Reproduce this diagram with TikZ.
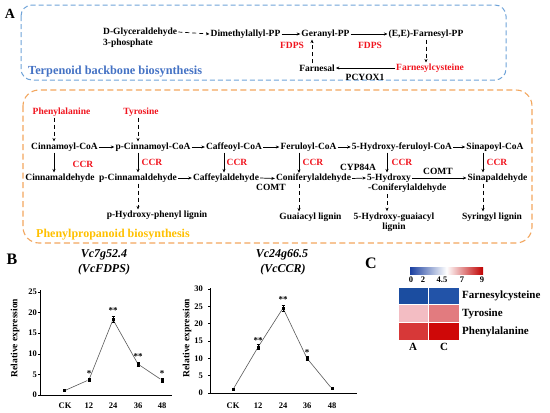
\documentclass[tikz,border=0pt]{standalone}
\usepackage{fontspec}
\setmainfont{Liberation Serif}
\usetikzlibrary{arrows.meta,calc}
\definecolor{tblue}{HTML}{6FA3D8}
\definecolor{ttext}{HTML}{4472C4}
\definecolor{porange}{HTML}{F2A65E}
\definecolor{ptext}{HTML}{FFC000}
\definecolor{enzred}{HTML}{F0141E}
\definecolor{hFA}{HTML}{1B4DA0}
\definecolor{hFC}{HTML}{2253A8}
\definecolor{hTA}{HTML}{F3BDC3}
\definecolor{hTC}{HTML}{E27B7F}
\definecolor{hPA}{HTML}{D73838}
\definecolor{hPC}{HTML}{CF0808}
\definecolor{cbB}{HTML}{1A3FA0}
\definecolor{cbR}{HTML}{C00000}
\newcommand{\errbar}[2]{\draw[line width=0.5pt] ([yshift=#2]#1.center) -- ([yshift=-#2]#1.center) ([xshift=-1.5pt,yshift=#2]#1.center) -- ([xshift=1.5pt,yshift=#2]#1.center) ([xshift=-1.5pt,yshift=-#2]#1.center) -- ([xshift=1.5pt,yshift=-#2]#1.center);}
\begin{document}
\begin{tikzpicture}[x=1pt,y=-1pt,
  every node/.style={inner sep=1pt, font=\bfseries\fontsize{9.5}{10}\selectfont},
  arr/.style={-{Stealth[length=3.5pt,width=3pt]}, line width=0.7pt},
  darr/.style={arr, dash pattern=on 4pt off 3pt},
  enz/.style={text=enzred},
  lbl/.style={font=\bfseries\fontsize{16}{16}\selectfont},
  tick/.style={font=\bfseries\fontsize{8.5}{9}\selectfont, inner sep=0.5pt},
  star/.style={font=\bfseries\fontsize{9}{9}\selectfont, inner sep=0pt},
  pt/.style={fill=black, rectangle, minimum size=3pt, inner sep=0pt},
  dline/.style={line width=0.6pt, black!65},
  title/.style={font=\bfseries\itshape\fontsize{12}{12}\selectfont},
  hl/.style={font=\bfseries\fontsize{11}{12}\selectfont, anchor=west}
]
\useasboundingbox (0,0) rectangle (550,413);

% ---------- Panel A : boxes ----------
\draw[tblue, line width=1pt, dash pattern=on 5pt off 3pt, rounded corners=11pt] (21,5) rectangle (506,80);
\draw[porange, line width=1.1pt, dash pattern=on 6pt off 3.5pt, rounded corners=16pt] (23,90) rectangle (532,243);
\node[lbl, font=\bfseries\fontsize{14}{14}\selectfont] (labA) at (10,14) {A};
\node[anchor=west, text=ttext, font=\bfseries\fontsize{12.3}{13}\selectfont] (ttitle) at (27,72) {Terpenoid backbone biosynthesis};
\node[anchor=west, text=ptext, font=\bfseries\fontsize{12}{13}\selectfont] (ptitle) at (35,235) {Phenylpropanoid biosynthesis};

% ---------- Terpenoid ----------
\node[anchor=west] (dg1) at (102,32) {D-Glyceraldehyde};
\node[anchor=west] (dg2) at (102,43) {3-phosphate};
\node (dmapp) at (245.5,34) {Dimethylallyl-PP};
\node (gpp) at (325.5,34) {Geranyl-PP};
\node (fpp) at (426,34) {(E,E)-Farnesyl-PP};
\node[enz] (fdps1) at (292,45) {FDPS};
\node[enz] (fdps2) at (370,45) {FDPS};
\node (farnesal) at (317,68) {Farnesal};
\node[enz] (fcys) at (430,68) {Farnesylcysteine};
\node (pcyox) at (365,77.5) {PCYOX1};
\coordinate (colF) at (312,0);
\draw[darr] (dg1.east) -- (dmapp.west);
\draw[arr] (dmapp.east) -- (gpp.west);
\draw[arr] (gpp.east) -- (fpp.west);
\draw[darr] (fpp.south) -- (fpp.south |- fcys.north);
\draw[arr] (fcys.west) -- (farnesal.east);
\draw[darr] (farnesal.north -| colF) -- (gpp.south -| colF);

% ---------- Phenylpropanoid ----------
\node[enz] (phe) at (61.5,112) {Phenylalanine};
\node[enz] (tyr) at (141,112) {Tyrosine};
\node (cin) at (64.5,147) {Cinnamoyl-CoA};
\node (pcin) at (153,147) {p-Cinnamoyl-CoA};
\node (caf) at (234,147) {Caffeoyl-CoA};
\node (fer) at (308.5,147) {Feruloyl-CoA};
\node (hfer) at (402,147) {5-Hydroxy-feruloyl-CoA};
\node (sin) at (495,147) {Sinapoyl-CoA};
\node (cinal) at (60,178) {Cinnamaldehyde};
\node (pcinal) at (138,178) {p-Cinnamaldehyde};
\node (cafal) at (226,178) {Caffeylaldehyde};
\node (conal) at (313.5,178.5) {Coniferylaldehyde};
\node[anchor=west] (hyd) at (366,178) {5-Hydroxy};
\node[anchor=west] (hyd2) at (367,188.5) {-Coniferylaldehyde};
\node (sinal) at (497.5,178) {Sinapaldehyde};
\node (hpl) at (157,215) {p-Hydroxy-phenyl lignin};
\node (gl) at (310.5,217) {Guaiacyl lignin};
\node[align=center, font=\bfseries\fontsize{9.5}{10.5}\selectfont] (hgl) at (394,222) {5-Hydroxy-guaiacyl\\lignin};
\node (sl) at (492,217) {Syringyl lignin};
\node[enz] (ccr1) at (83,164) {CCR};
\node[enz] (ccr2) at (152,162.5) {CCR};
\node[enz] (ccr3) at (237,162.5) {CCR};
\node[enz] (ccr4) at (313,162.5) {CCR};
\node[enz] (ccr5) at (402,162.5) {CCR};
\node[enz] (ccr6) at (497,162.5) {CCR};
\node (comt1) at (271,187.5) {COMT};
\node (cyp) at (358,167) {CYP84A};
\node (comt2) at (438,171) {COMT};
\coordinate (c1) at (54,0);
\coordinate (c2) at (138,0);
\coordinate (c3) at (224,0);
\coordinate (c4) at (299,0);
\coordinate (c5) at (387,0);
\coordinate (c6) at (483,0);
% inputs
\draw[darr] (phe.south -| c1) -- (cin.north -| c1);
\draw[darr] (tyr.south -| c2) -- (pcin.north -| c2);
% CoA row
\draw[arr] (cin.east) -- (pcin.west);
\draw[arr] (pcin.east) -- (caf.west);
\draw[arr] (caf.east) -- (fer.west);
\draw[arr] (fer.east) -- (hfer.west);
\draw[arr] (hfer.east) -- (sin.west);
% CCR steps
\draw[arr] (cin.south -| c1) -- (cinal.north -| c1);
\draw[arr] (pcin.south -| c2) -- (pcinal.north -| c2);
\draw[arr] (caf.south -| c3) -- (cafal.north -| c3);
\draw[arr] (fer.south -| c4) -- (conal.north -| c4);
\draw[arr] (hfer.south -| c5) -- (hyd.north -| c5);
\draw[arr] (sin.south -| c6) -- (sinal.north -| c6);
% aldehyde row
\draw[arr] (pcinal.east) -- (cafal.west);
\draw[arr] (cafal.east) -- (conal.west);
\draw[arr] (conal.east) -- (hyd.west);
\draw[arr] (hyd.east) -- (sinal.west);
% lignins
\draw[darr] (pcinal.south -| c2) -- (hpl.north -| c2);
\draw[darr] (conal.south -| c4) -- (gl.north -| c4);
\draw[darr] (hyd2.south -| c5) -- (hgl.north -| c5);
\draw[darr] (sinal.south -| c6) -- (sl.north -| c6);

% ---------- Panel B ----------
\node[lbl] (labB) at (12,259) {B};
\node[title] (t1a) at (104,255) {Vc7g52.4};
\node[title] (t1b) at (104,270) {(VcFDPS)};
\node[title] (t2a) at (282,255) {Vc24g66.5};
\node[title] (t2b) at (283,270) {(VcCCR)};

% chart 1
\node[rotate=90, font=\bfseries\fontsize{9.5}{10}\selectfont] (yl1) at (15,338) {Relative expression};
\coordinate (o1) at (40,395);
\coordinate (e1) at (172,395);
\coordinate (top1) at (40,290);
\draw[line width=0.6pt] (top1) -- (o1) -- (e1);
\foreach \v/\y in {0/395,5/374.4,10/353.8,15/333.2,20/312.6,25/292}{
  \draw[line width=0.5pt] (38,\y) -- (40,\y);
  \node[tick, anchor=east] (ya\v) at (37.5,\y) {\v};
}
\foreach \n/\x in {CK/65,12/89,24/113,36/138,48/162}{
  \node[tick] (xa\n) at (\x,405.5) {\n};
}
\node[pt] (a1) at (64,390.9) {};
\node[pt] (a2) at (89,379.8) {};
\node[pt] (a3) at (113,319.6) {};
\node[pt] (a4) at (138,364.1) {};
\node[pt] (a5) at (162,380.2) {};
\draw[dline] (a1) -- (a2) -- (a3) -- (a4) -- (a5);
\errbar{a2}{1pt}
\errbar{a3}{3pt}
\errbar{a4}{2pt}
\errbar{a5}{2pt}
\node[star] (s12) at (89,374) {*};
\node[star] (s13) at (113,311) {**};
\node[star] (s14) at (138,357) {**};
\node[star] (s15) at (162,373.5) {*};

% chart 2
\node[rotate=90, font=\bfseries\fontsize{9.5}{10}\selectfont] (yl2) at (187,338) {Relative expression};
\coordinate (o2) at (210,393);
\coordinate (e2) at (357,393);
\coordinate (top2) at (210,288);
\draw[line width=0.6pt] (top2) -- (o2) -- (e2);
\foreach \v/\y in {0/393,5/375.7,10/358.3,15/341,20/323.7,25/306.3,30/289}{
  \draw[line width=0.5pt] (208,\y) -- (210,\y);
  \node[tick, anchor=east] (yb\v) at (203.5,\y) {\v};
}
\foreach \n/\x in {CK/233,12/258,24/283,36/307,48/332}{
  \node[tick] (xb\n) at (\x,405.5) {\n};
}
\node[pt] (b1) at (233,389.5) {};
\node[pt] (b2) at (258,347.2) {};
\node[pt] (b3) at (283,308.1) {};
\node[pt] (b4) at (307,358.3) {};
\node[pt] (b5) at (332,388.8) {};
\draw[dline] (b1) -- (b2) -- (b3) -- (b4) -- (b5);
\errbar{b2}{2.5pt}
\errbar{b3}{3pt}
\errbar{b4}{2pt}
\node[star] (s22) at (258,341) {**};
\node[star] (s23) at (283,299.5) {**};
\node[star] (s24) at (307,353) {*};

% ---------- Panel C ----------
\node[lbl] (labC) at (371,263) {C};
\shade[left color=cbB, right color=cbR, middle color=white] (410,267) rectangle (483,274.5);
\foreach \n/\x/\t in {a/411/0,b/423/2,c/442/4.5,d/462/7,e/482/9}{
  \node[tick] (cb\n) at (\x,279.5) {\t};
}
\begin{scope}[draw=white, line width=0.5pt]
\filldraw[fill=hFA] (398,287) rectangle (428.5,304.5);
\filldraw[fill=hFC] (428.5,287) rectangle (459,304.5);
\filldraw[fill=hTA] (398,304.5) rectangle (428.5,322);
\filldraw[fill=hTC] (428.5,304.5) rectangle (459,322);
\filldraw[fill=hPA] (398,322) rectangle (428.5,340);
\filldraw[fill=hPC] (428.5,322) rectangle (459,340);
\end{scope}
\node[hl] (hf) at (461,296) {Farnesylcysteine};
\node[hl] (ht) at (461,314) {Tyrosine};
\node[hl] (hp) at (461,332) {Phenylalanine};
\node[font=\bfseries\fontsize{11}{12}\selectfont] (colA) at (413,346.5) {A};
\node[font=\bfseries\fontsize{11}{12}\selectfont] (colC) at (444,346.5) {C};
\end{tikzpicture}
\end{document}
